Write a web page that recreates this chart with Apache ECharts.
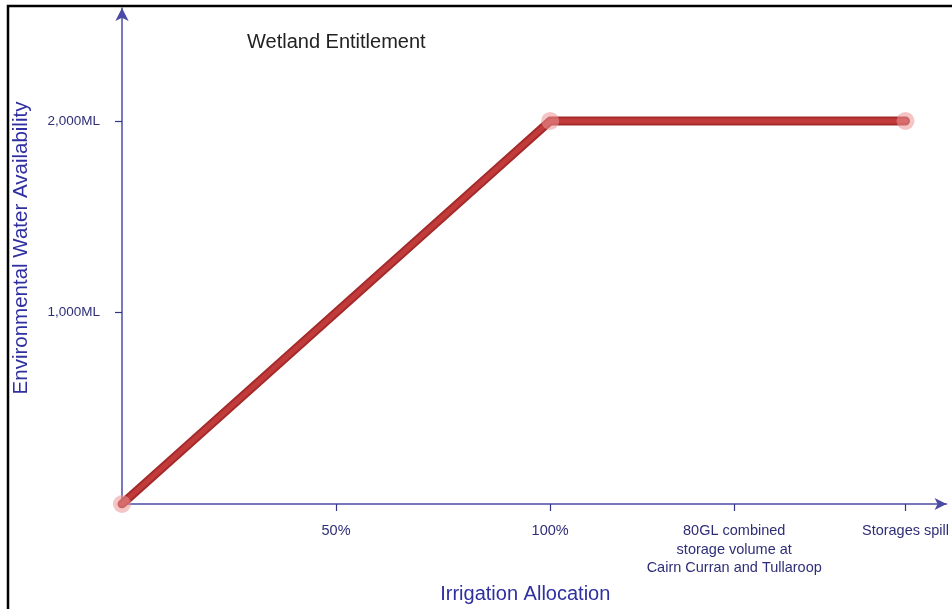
<!DOCTYPE html>
<html>
<head>
<meta charset="utf-8">
<script src="https://cdn.jsdelivr.net/npm/echarts@6/dist/echarts.min.js"></script>
<style>
html,body{margin:0;padding:0;background:#fff;}
#chart{width:952px;height:609px;}
</style>
</head>
<body>
<div id="chart"></div>
<script>
// Data
const titleText = 'Wetland Entitlement';
const xAxisName = 'Irrigation Allocation';
const yAxisName = 'Environmental Water Availability';
const xTickValues = [50, 100, 143, 183];
const xTickLabels = ['50%', '100%', '80GL combined\nstorage volume at\nCairn Curran and Tullaroop', 'Storages spill'];
const yTickValues = [1000, 2000];
const yTickLabels = ['1,000ML', '2,000ML'];
const pointX = [0, 100, 183];
const pointY = [0, 2000, 2000];
const xMax = 192.6;
const yMax = 2590;

const xLabelMap = {};
xTickValues.forEach((v, i) => { xLabelMap[v] = xTickLabels[i]; });
const yLabelMap = {};
yTickValues.forEach((v, i) => { yLabelMap[v] = yTickLabels[i]; });
const seriesData = pointX.map((x, i) => [x, pointY[i]]);

const axisColor = '#4b4ba6';
const labelColor = '#2e2e78';
const nameColor = '#2f2fa0';
const font = 'Liberation Sans, Arial, sans-serif';

const chart = echarts.init(document.getElementById('chart'), null, {renderer: 'canvas'});
chart.setOption({
  animation: false,
  backgroundColor: '#ffffff',
  grid: {left: 122, top: 8, right: 2, bottom: 101, containLabel: false},
  graphic: [
    {type: 'rect', shape: {x: 8, y: 6, width: 1000, height: 700}, style: {fill: 'none', stroke: '#000', lineWidth: 2.5}, silent: true, z: 0},
    {type: 'text', left: 247, top: 32, style: {text: titleText, fill: '#222', font: '20px ' + font}, z: 10}
  ],
  xAxis: {
    type: 'value', min: 0, max: xMax,
    splitLine: {show: false},
    axisLine: {show: true, lineStyle: {color: axisColor, width: 1.5}, symbol: ['none', 'arrow'], symbolSize: [9, 12], symbolOffset: [0, 0]},
    axisTick: {show: true, customValues: xTickValues, length: 7, inside: false, lineStyle: {color: '#333388', width: 1.2}},
    axisLabel: {show: true, customValues: xTickValues, formatter: v => xLabelMap[v] || '', color: labelColor, fontSize: 14.5, fontFamily: font, lineHeight: 18.5, margin: 18},
    name: xAxisName, nameLocation: 'middle', nameGap: 80,
    nameTextStyle: {color: nameColor, fontSize: 20, fontFamily: font, padding: [0, 18, 0, 0]}
  },
  yAxis: {
    type: 'value', min: 0, max: yMax,
    splitLine: {show: false},
    axisLine: {show: true, lineStyle: {color: axisColor, width: 1.5}, symbol: ['none', 'arrow'], symbolSize: [10, 13]},
    axisTick: {show: true, customValues: yTickValues, length: 7, lineStyle: {color: '#333388', width: 1.2}},
    axisLabel: {show: true, customValues: yTickValues, formatter: v => yLabelMap[v] || '', color: labelColor, fontSize: 13.5, fontFamily: font, margin: 22},
    name: yAxisName, nameLocation: 'middle', nameGap: 90,
    nameTextStyle: {color: nameColor, fontSize: 20.5, fontFamily: font, padding: [0, 0, 0, 16]}
  },
  series: [
    {
      type: 'line', data: seriesData, symbol: 'none', z: 2,
      lineStyle: {color: '#a52b2b', width: 9, cap: 'round', join: 'round'}
    },
    {
      type: 'line', data: seriesData, z: 3,
      symbol: 'circle', symbolSize: 18,
      itemStyle: {color: 'rgba(236,150,150,0.55)', borderWidth: 0},
      lineStyle: {color: '#c23b3b', width: 5, cap: 'round', join: 'round'}
    }
  ]
});
</script>
</body>
</html>
